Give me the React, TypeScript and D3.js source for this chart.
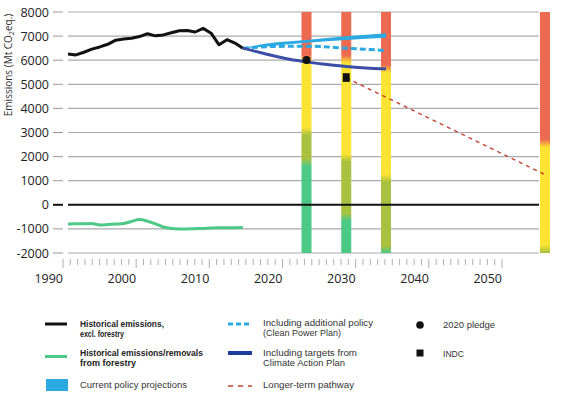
import React from "react";
import * as d3 from "d3";

// ---------- data ----------
const histYears = d3.range(1990, 2013);
const histEmissions = [6260, 6220, 6330, 6460, 6550, 6660, 6830, 6880, 6910, 6980, 7100, 7010, 7050, 7140, 7220, 7230, 7170, 7320, 7120, 6640, 6850, 6710, 6500];
const forestryValues = [-800, -790, -785, -780, -835, -820, -800, -775, -690, -610, -680, -790, -920, -980, -1000, -1000, -990, -980, -960, -955, -955, -950, -940];

const currentYears = [2012, 2015, 2020, 2025, 2030];
const currentUpper = [6500, 6690, 6840, 6990, 7120];
const currentLower = [6500, 6570, 6720, 6840, 6930];

const cppYears = [2012, 2016, 2020, 2025, 2030];
const cppValues = [6500, 6570, 6580, 6500, 6400];

const capYears = [2012, 2015, 2018, 2020, 2022, 2025, 2028, 2030];
const capValues = [6500, 6250, 6030, 5930, 5840, 5740, 5670, 5640];

const longTermYears = [2025, 2050];
const longTermValues = [5270, 1250];

const pledgeYear = 2020;
const pledgeValue = 6010;
const indcYear = 2025;
const indcRange = [5100, 5460];

const barYears = [2020, 2025, 2030, 2050];
const barRedFloor = [6050, 6050, 5650, 2550];
const barYellowFloor = [3050, 1950, 1100, -1820];
const barOliveFloor = [1750, -500, -1870, -1960];

const yTicks = d3.range(-2000, 8001, 1000);
const xTickLabels = [1990, 2000, 2010, 2020, 2030, 2040, 2050];
const xMinorTicks = d3.range(1990, 2051, 1);

// ---------- styles ----------
const RED = "#ec6a4f";
const YELLOW = "#fde333";
const OLIVE = "#a9c13f";
const GREEN = "#4cc987";
const LIGHTBLUE = "#2aaae1";
const DARKBLUE = "#3b4ea8";
const FONT = "'Open Sans', 'Noto Sans', sans-serif";
const LFONT = "'Liberation Sans', Arial, sans-serif";
const LF = 8.5;

type Line = { t: string; y: number; w: number };
function LegendText({ x, lines, bold }: { x: number; lines: Line[]; bold?: boolean }) {
  return (
    <text fontSize={LF} fontFamily={LFONT} fontWeight={bold ? "bold" : "normal"} fill={bold ? "#222" : "#333"}>
      {lines.map((l, i) => (
        <tspan key={i} x={x} y={l.y} textLength={l.w} lengthAdjust="spacingAndGlyphs">
          {l.t}
        </tspan>
      ))}
    </text>
  );
}

export default function App() {
  const y = d3.scaleLinear().domain([-2000, 8000]).range([253, 12]);
  const x = d3.scaleLinear().domain([1990, 2050]).range([68, 545]);
  const xAxis = d3.scaleLinear().domain([1990, 2050]).range([63, 502]);

  const line = d3.line<[number, number]>().x((d) => x(d[0])).y((d) => y(d[1]));
  const smooth = d3.line<[number, number]>().x((d) => x(d[0])).y((d) => y(d[1])).curve(d3.curveMonotoneX);

  const histPath = line(histYears.map((yr, i) => [yr, histEmissions[i]]));
  const forPath = smooth(histYears.map((yr, i) => [yr, forestryValues[i]]));
  const cppPath = smooth(cppYears.map((yr, i) => [yr, cppValues[i]]));
  const capPath = smooth(capYears.map((yr, i) => [yr, capValues[i]]));
  const ltPath = line(longTermYears.map((yr, i) => [yr, longTermValues[i]]));
  const area = d3
    .area<number>()
    .x((d, i) => x(currentYears[i]))
    .y0((d, i) => y(currentLower[i]))
    .y1((d) => y(d))
    .curve(d3.curveMonotoneX);
  const curPath = area(currentUpper);

  const barW = 10;
  const top = y(8000);
  const bottom = y(-2000);
  const H = bottom - top;
  const blend = 4;
  const off = (v: number, d: number) => Math.max(0, Math.min(1, (y(v) - top + d) / H));

  const gridX0 = 68;
  const gridX1 = 539;

  return (
    <svg width={567} height={397} style={{ position: "absolute", left: 0, top: 0, background: "#fff" }} fontFamily={FONT}>
      <defs>
        {barYears.map((yr, i) => (
          <linearGradient key={yr} id={`bar${i}`} gradientUnits="userSpaceOnUse" x1={0} x2={0} y1={top} y2={bottom}>
            <stop offset={0} stopColor={RED} />
            <stop offset={off(barRedFloor[i], -blend)} stopColor={RED} />
            <stop offset={off(barRedFloor[i], blend)} stopColor={YELLOW} />
            <stop offset={off(barYellowFloor[i], -blend)} stopColor={YELLOW} />
            <stop offset={off(barYellowFloor[i], blend)} stopColor={OLIVE} />
            <stop offset={off(barOliveFloor[i], -blend)} stopColor={OLIVE} />
            <stop offset={off(barOliveFloor[i], blend)} stopColor={GREEN} />
            <stop offset={1} stopColor={GREEN} />
          </linearGradient>
        ))}
      </defs>

      <text transform="translate(12,65) rotate(-90)" textAnchor="middle" fontSize={10} fill="#333">
        Emissions (Mt CO<tspan fontSize={7} dy={2}>2</tspan>
        <tspan dy={-2}>eq.)</tspan>
      </text>

      {yTicks.map((t) => (
        <g key={t}>
          <line x1={53} x2={63} y1={y(t)} y2={y(t)} stroke={t === 0 ? "#111" : "#999"} strokeWidth={t === 0 ? 2 : 1} />
          {t !== 0 && <line x1={gridX0} x2={gridX1} y1={y(t)} y2={y(t)} stroke="#aaa" strokeWidth={1.2} />}
          <text x={49} y={y(t)} dy="0.36em" textAnchor="end" fontSize={12.5} fill="#222">
            {t}
          </text>
        </g>
      ))}

      {barYears.map((yr, i) => (
        <rect key={yr} x={x(yr) - barW / 2} y={top} width={barW} height={H} fill={`url(#bar${i})`} />
      ))}

      <line x1={gridX0} x2={gridX1} y1={y(0)} y2={y(0)} stroke="#111" strokeWidth={2} />

      {xMinorTicks.map((t) => (
        <line key={t} x1={xAxis(t)} x2={xAxis(t)} y1={259} y2={t % 10 === 0 ? 268 : 265} stroke="#999" strokeWidth={0.8} />
      ))}
      {xTickLabels.map((t) => (
        <text key={t} x={xAxis(t)} y={283} textAnchor="end" fontSize={12.5} fill="#222">
          {t}
        </text>
      ))}

      <path d={forPath!} fill="none" stroke={GREEN} strokeWidth={3} />
      <path d={histPath!} fill="none" stroke="#111" strokeWidth={3} strokeLinejoin="round" />
      <path d={curPath!} fill={LIGHTBLUE} stroke="none" />
      <path d={cppPath!} fill="none" stroke={LIGHTBLUE} strokeWidth={3} strokeDasharray="6,3" />
      <path d={capPath!} fill="none" stroke={DARKBLUE} strokeWidth={3} />
      <path d={ltPath!} fill="none" stroke="#c8402f" strokeWidth={1.3} strokeDasharray="4,4" />
      <circle cx={x(pledgeYear)} cy={y(pledgeValue)} r={4} fill="#111" />
      <rect x={x(indcYear) - 3.5} y={y(indcRange[1])} width={7} height={y(indcRange[0]) - y(indcRange[1])} fill="#111" />

      {/* legend column 1 */}
      <line x1={45} x2={67} y1={324} y2={324} stroke="#111" strokeWidth={3} />
      <LegendText x={80} bold lines={[{ t: "Historical emissions,", y: 326.5, w: 84 }, { t: "excl. forestry", y: 337, w: 44 }]} />

      <line x1={45} x2={67} y1={356.5} y2={356.5} stroke={GREEN} strokeWidth={3} />
      <LegendText x={80} bold lines={[{ t: "Historical emissions/removals", y: 355.5, w: 123 }, { t: "from forestry", y: 366, w: 56 }]} />

      <rect x={46} y={379} width={22} height={12} fill={LIGHTBLUE} />
      <LegendText x={80} lines={[{ t: "Current policy projections", y: 388, w: 107 }]} />

      {/* legend column 2 */}
      <line x1={228} x2={252} y1={324} y2={324} stroke={LIGHTBLUE} strokeWidth={3} strokeDasharray="5,3" />
      <LegendText x={263} lines={[{ t: "Including additional policy", y: 325.5, w: 110 }, { t: "(Clean Power Plan)", y: 336, w: 78 }]} />

      <line x1={228} x2={252} y1={353} y2={353} stroke="#1f3f9f" strokeWidth={4} />
      <LegendText x={263} lines={[{ t: "Including targets from", y: 355.5, w: 94 }, { t: "Climate Action Plan", y: 366, w: 82 }]} />

      <line x1={228} x2={252} y1={386} y2={386} stroke="#c8402f" strokeWidth={1.3} strokeDasharray="5,5" />
      <LegendText x={263} lines={[{ t: "Longer-term pathway", y: 387.5, w: 91 }]} />

      {/* legend column 3 */}
      <circle cx={420} cy={325} r={3.8} fill="#111" />
      <LegendText x={443} lines={[{ t: "2020 pledge", y: 327.5, w: 52 }]} />
      <rect x={416.5} y={349.5} width={7} height={7} fill="#111" />
      <LegendText x={443} lines={[{ t: "INDC", y: 356.5, w: 21 }]} />
    </svg>
  );
}
